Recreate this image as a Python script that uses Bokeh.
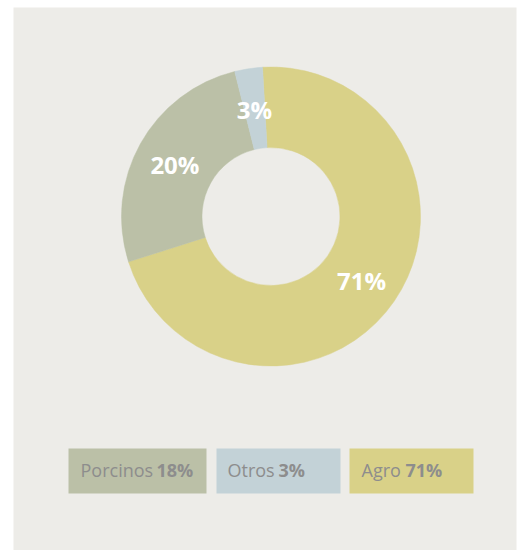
import numpy as np
from bokeh.plotting import figure
from bokeh.models import Range1d
from bokeh.core.properties import value
from bokeh.embed import file_html
from bokeh.resources import INLINE

# ---- data ----
categories = ["Agro", "Porcinos", "Otros"]
shares = [71, 26, 3]                 # slice sizes as drawn
slice_labels = ["71%", "20%", "3%"]  # labels printed on the slices
slice_colors = ["#d9d188", "#bbc0a7", "#c3d2d7"]

legend_names = ["Porcinos", "Otros", "Agro"]
legend_values = ["18%", "3%", "71%"]
legend_colors = ["#bbc0a7", "#c3d2d7", "#d9d188"]

# ---- layout (page pixel coordinates) ----
W, H = 517, 550
def Y(py):
    return 550 - py

cx, cy = 270.5, Y(216)
r_out, r_in = 149.5, 69
start_offset = -3.25  # degrees clockwise from 12 o'clock

p = figure(width=W, height=H, output_backend="svg", toolbar_location=None,
           x_axis_location=None, y_axis_location=None,
           x_range=Range1d(13, 516), y_range=Range1d(0, 543),
           min_border_left=13, min_border_right=1, min_border_top=7, min_border_bottom=0,
           background_fill_color="#edece8", border_fill_color="white",
           outline_line_color=None)
p.grid.visible = False

tot = float(sum(shares))
cum = np.concatenate([[0], np.cumsum(shares)]) / tot * 360.0
start_cw = start_offset + cum[:-1]
end_cw = start_offset + cum[1:]
start_a = np.radians(90 - start_cw)
end_a = np.radians(90 - end_cw)

p.annular_wedge(x=cx, y=cy, inner_radius=r_in, outer_radius=r_out,
                start_angle=list(start_a), end_angle=list(end_a), direction="clock",
                fill_color=slice_colors, line_color=slice_colors, line_width=0.5)

mid_cw = np.radians((start_cw + end_cw) / 2)
r_lab = 110
lx = cx + r_lab * np.sin(mid_cw)
ly = cy + r_lab * np.cos(mid_cw)
p.text(x=list(lx), y=list(ly), text=slice_labels, text_color="white",
       text_font=value("Open Sans"), text_font_style="bold", text_font_size="24px",
       text_align="center", text_baseline="middle", y_offset=2)

# legend boxes
box_left = [68, 216, 349]
box_right = [206, 340, 473]
p.quad(left=box_left, right=box_right, top=[Y(448)] * 3, bottom=[Y(493)] * 3,
       fill_color=legend_colors, line_color=None)
name_x = [80, 227, 361]
val_x = [156, 278, 405]
p.text(x=name_x, y=[Y(469)] * 3, text=legend_names, text_color="#8d8d8d",
       text_font=value("Open Sans"), text_font_size="18px",
       text_align="left", text_baseline="middle")
p.text(x=val_x, y=[Y(469)] * 3, text=legend_values, text_color="#8d8d8d",
       text_font=value("Open Sans"), text_font_style="bold", text_font_size="18px",
       text_align="left", text_baseline="middle")

open("out.html", "w").write(file_html(p, INLINE))
